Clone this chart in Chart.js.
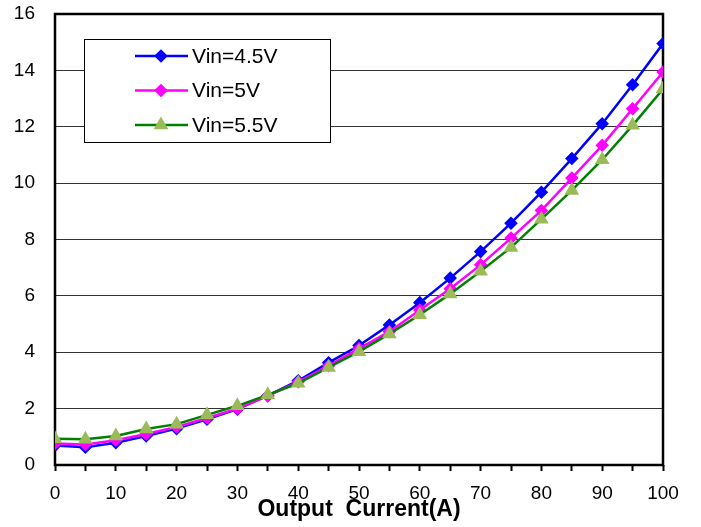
<!DOCTYPE html>
<html>
<head>
<meta charset="utf-8">
<script src="https://cdn.jsdelivr.net/npm/chart.js@4"></script>
<style>
  html, body { margin: 0; padding: 0; background: #fff; }
  #wrap { width: 701px; height: 527px; position: relative; }
</style>
</head>
<body>
<div id="wrap"><canvas id="chart"></canvas></div>
<script>
// ── data ─────────────────────────────────────────────────────────────────────
var currentA = [0, 5, 10, 15, 20, 25, 30, 35, 40, 45, 50, 55, 60, 65, 70, 75, 80, 85, 90, 95, 100];
var vin45 = [0.69, 0.63, 0.79, 1.03, 1.29, 1.62, 1.98, 2.46, 2.99, 3.63, 4.24, 4.97, 5.76, 6.63, 7.57, 8.58, 9.68, 10.87, 12.11, 13.49, 14.95];
var vin50 = [0.76, 0.73, 0.88, 1.10, 1.35, 1.67, 2.00, 2.45, 2.95, 3.52, 4.13, 4.73, 5.50, 6.25, 7.10, 8.05, 9.03, 10.18, 11.34, 12.64, 13.94];
var vin55 = [0.93, 0.91, 1.03, 1.28, 1.45, 1.78, 2.10, 2.49, 2.90, 3.46, 4.02, 4.65, 5.33, 6.07, 6.87, 7.72, 8.72, 9.74, 10.83, 12.05, 13.34];
var seriesLabels = ['Vin=4.5V', 'Vin=5V', 'Vin=5.5V'];
var xTitle = 'Output  Current(A)';

var FONT = '"Liberation Sans", Arial, sans-serif';

function toPoints(ys) {
    return ys.map((y, i) => ({ x: currentA[i], y: y }));
}

// plot frame: thick black border round the chart area
const framePlugin = {
    id: 'frame',
    beforeDatasetsDraw(chart) {
        const a = chart.chartArea, ctx = chart.ctx;
        ctx.save();
        ctx.strokeStyle = '#000';
        ctx.lineWidth = 2.5;
        ctx.strokeRect(a.left, a.top, a.right - a.left, a.bottom - a.top);
        ctx.restore();
    }
};

// boxed legend inside the plot, like the Excel original
const boxLegend = {
    id: 'boxLegend',
    afterDraw(chart) {
        const ctx = chart.ctx;
        const bx = 84, by = 39, bw = 246, bh = 103;
        ctx.save();
        ctx.fillStyle = '#fff';
        ctx.fillRect(bx, by, bw, bh);
        ctx.strokeStyle = '#000';
        ctx.lineWidth = 1;
        ctx.strokeRect(bx + 0.5, by + 0.5, bw, bh);
        chart.data.datasets.forEach((ds, i) => {
            const y = 56 + i * 34.5;
            ctx.strokeStyle = ds.borderColor;
            ctx.lineWidth = 2.5;
            ctx.beginPath();
            ctx.moveTo(135, y);
            ctx.lineTo(188, y);
            ctx.stroke();
            ctx.fillStyle = ds.pointBackgroundColor;
            ctx.strokeStyle = ds.pointBorderColor;
            Chart.helpers.drawPoint(ctx, {
                pointStyle: ds.pointStyle, radius: ds.pointRadius, borderWidth: 1, rotation: 0
            }, 161, y);
            ctx.fillStyle = '#000';
            ctx.font = '21px ' + FONT;
            ctx.textAlign = 'left';
            ctx.textBaseline = 'middle';
            ctx.fillText(ds.label, 192, y + 1);
        });
        ctx.restore();
    }
};

const ctx = document.getElementById('chart').getContext('2d');
new Chart(ctx, {
    type: 'line',
    data: {
        datasets: [
            {
                label: seriesLabels[0], data: toPoints(vin45), order: 3,
                borderColor: '#0000FF', borderWidth: 2.5,
                pointStyle: 'rectRot', pointRadius: 5,
                pointBackgroundColor: '#0000FF', pointBorderColor: '#0000FF'
            },
            {
                label: seriesLabels[1], data: toPoints(vin50), order: 2,
                borderColor: '#FF00FF', borderWidth: 2.5,
                pointStyle: 'rectRot', pointRadius: 5,
                pointBackgroundColor: '#FF00FF', pointBorderColor: '#FF00FF'
            },
            {
                label: seriesLabels[2], data: toPoints(vin55), order: 1,
                borderColor: '#008000', borderWidth: 2.5,
                pointStyle: 'triangle', pointRadius: 6,
                pointBackgroundColor: '#9BBB59', pointBorderColor: '#9BBB59'
            }
        ]
    },
    options: {
        animation: false,
        responsive: true,
        maintainAspectRatio: false,
        layout: { padding: { left: 0, right: 38, top: 14, bottom: 0 } },
        plugins: {
            legend: { display: false },
            tooltip: { enabled: false }
        },
        scales: {
            x: {
                type: 'linear', min: 0, max: 100,
                afterFit: s => { s.height = 62; s.paddingLeft = 0; s.paddingRight = 0; },
                border: { display: false },
                grid: {
                    drawOnChartArea: false, drawTicks: true,
                    tickLength: 6, tickWidth: 2, tickColor: '#000'
                },
                ticks: {
                    stepSize: 5, autoSkip: false, maxRotation: 0, padding: 11,
                    color: '#000', font: { family: FONT, size: 19 },
                    callback: v => (v % 10 === 0 ? String(v) : '')
                },
                title: {
                    display: true, text: xTitle, color: '#000',
                    font: { family: FONT, size: 23, weight: 'bold' },
                    padding: { top: 0, bottom: 4 }
                }
            },
            y: {
                min: 0, max: 16,
                afterFit: s => { s.width = 55; s.paddingTop = 0; s.paddingBottom = 0; },
                border: { display: false },
                grid: { color: '#333', lineWidth: 1, drawTicks: false },
                ticks: {
                    stepSize: 2, padding: 20, color: '#000',
                    font: { family: FONT, size: 19 }
                }
            }
        }
    },
    plugins: [framePlugin, boxLegend]
});
</script>
</body>
</html>
